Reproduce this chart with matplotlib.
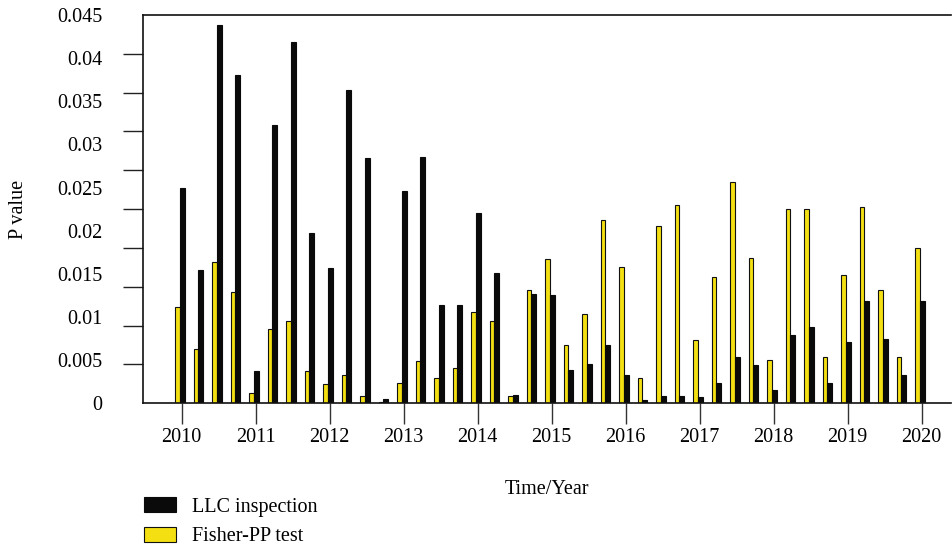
import numpy as np
import matplotlib.pyplot as plt
from matplotlib.ticker import FixedLocator, FuncFormatter

plt.rcParams['font.family'] = ['Liberation Serif', 'DejaVu Serif']

# quarterly P values, 2010Q1 .. 2020Q1
start_year = 2010
years = list(range(2010, 2021))
llc = [0.0250, 0.0155, 0.0438, 0.0381, 0.0037, 0.0322, 0.0419, 0.0197,
       0.0157, 0.0363, 0.0284, 0.0005, 0.0246, 0.0285, 0.0114, 0.0114,
       0.0220, 0.0151, 0.0010, 0.0127, 0.0126, 0.0039, 0.0046, 0.0067,
       0.0033, 0.0004, 0.0008, 0.0008, 0.0007, 0.0023, 0.0054, 0.0044,
       0.0015, 0.0079, 0.0088, 0.0024, 0.0071, 0.0119, 0.0075, 0.0033,
       0.0119]
fisher = [0.0112, 0.0063, 0.0164, 0.0129, 0.0012, 0.0086, 0.0095, 0.0037,
          0.0022, 0.0033, 0.0009, 0.0001, 0.0023, 0.0049, 0.0029, 0.0041,
          0.0106, 0.0095, 0.0009, 0.0131, 0.0167, 0.0067, 0.0104, 0.0212,
          0.0158, 0.0029, 0.0206, 0.0230, 0.0073, 0.0146, 0.0257, 0.0168,
          0.0050, 0.0225, 0.0225, 0.0054, 0.0149, 0.0228, 0.0131, 0.0054,
          0.0180]

yellow = '#f3df12'
x = start_year + np.arange(len(llc)) * 0.25
w = 0.066
fs = 14.5

fig = plt.figure(figsize=(9.52, 5.45), dpi=100)
ax = fig.add_axes([143 / 952, 1 - 403.3 / 545, 808 / 952, 388.3 / 545])

ax.bar(x - 0.056, fisher, w, color=yellow, edgecolor='#111111', linewidth=0.8,
       label='Fisher-PP test')
ax.bar(x + 0.010, llc, w, color='#0a0a0a', edgecolor='#0a0a0a', linewidth=0.8,
       label='LLC inspection')

ax.set_xlim(2009.477, 2020.396)
ax.set_ylim(0, 0.045)

ax.set_xticks(years)
ax.tick_params(axis='x', length=15, width=1, direction='out', pad=3,
               labelsize=fs, color='#333333')

# labels and tick marks in the original do not line up
ax.yaxis.set_major_locator(FixedLocator(np.arange(0, 0.0451, 0.005)))
ax.yaxis.set_major_formatter(FuncFormatter(lambda v, p: f'{v:g}'))
ax.yaxis.set_minor_locator(FixedLocator(np.linspace(0, 0.045, 11)))
ax.tick_params(axis='y', which='major', length=0, pad=29.5, labelsize=fs)
ax.tick_params(axis='y', which='minor', length=14.5, width=1, direction='out',
               color='#222222')

ax.spines['right'].set_visible(False)
for s in ['left', 'top', 'bottom']:
    ax.spines[s].set_linewidth(1.2)
    ax.spines[s].set_color('#111111')

ax.set_ylabel('P value', fontsize=fs, va='center')
ax.yaxis.set_label_coords(-0.154, 0.5)
ax.set_xlabel('Time/Year', fontsize=fs, va='center')
ax.xaxis.set_label_coords(0.5, -0.221)

handles, labels = ax.get_legend_handles_labels()
fig.legend(handles[::-1], labels[::-1], loc='upper left',
           bbox_to_anchor=(144 / 952, 1 - 497 / 545), frameon=False,
           fontsize=fs, borderpad=0, borderaxespad=0, handlelength=1.6,
           handleheight=0.8, handletextpad=0.8, labelspacing=0.5)

fig.savefig('out.png', dpi=100)
